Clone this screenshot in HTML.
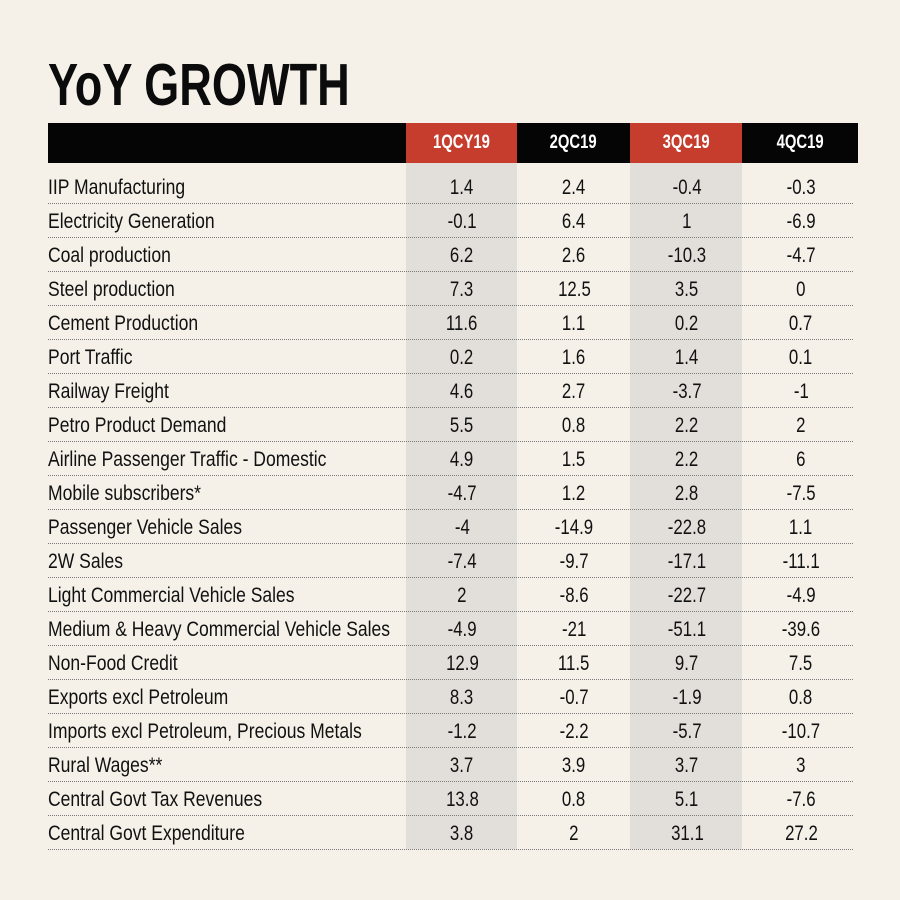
<!DOCTYPE html>
<html><head><meta charset="utf-8"><style>
html,body{margin:0;padding:0;}
body{width:900px;height:900px;background:#f5f0e8;position:relative;overflow:hidden;font-family:"Liberation Sans",sans-serif;color:#111;}
.abs{position:absolute;}
.title{left:48px;top:56px;font-size:59px;line-height:59px;font-weight:bold;white-space:nowrap;transform:scaleX(0.765);transform-origin:0 0;color:#0b0b0b;}
.hb{top:123px;height:40px;}
.ht{position:absolute;top:0;height:40px;line-height:40px;width:100%;text-align:center;color:#fff;font-weight:bold;font-size:19px;}
.ht span{display:inline-block;transform:scaleX(0.78);}
.shade{top:163px;height:686px;background:#e2dfda;}
.sep{left:48px;width:805px;height:0;border-top:1.5px dotted #7a7a7a;}
.row{left:0;width:900px;height:34px;line-height:34px;font-size:21px;white-space:nowrap;}
.lab{position:absolute;left:48px;top:0;transform:scaleX(0.835);transform-origin:0 0;}
.v{position:absolute;top:0;width:112px;text-align:center;}
.v span{display:inline-block;transform:scaleX(0.8);}
</style></head><body>
<div class="abs title">YoY GROWTH</div>
<div class="abs hb" style="left:48px;width:358px;background:#050505"></div>
<div class="abs hb" style="left:406px;width:111px;background:#c63d2d"><div class="ht"><span>1QCY19</span></div></div>
<div class="abs hb" style="left:517px;width:113px;background:#050505"><div class="ht"><span>2QC19</span></div></div>
<div class="abs hb" style="left:630px;width:112px;background:#c63d2d"><div class="ht"><span>3QC19</span></div></div>
<div class="abs hb" style="left:742px;width:116px;background:#050505"><div class="ht"><span>4QC19</span></div></div>
<div class="abs shade" style="left:406px;width:111px"></div>
<div class="abs shade" style="left:630px;width:112px"></div>
<div class="abs sep" style="top:203px"></div>
<div class="abs sep" style="top:237px"></div>
<div class="abs sep" style="top:271px"></div>
<div class="abs sep" style="top:305px"></div>
<div class="abs sep" style="top:339px"></div>
<div class="abs sep" style="top:373px"></div>
<div class="abs sep" style="top:407px"></div>
<div class="abs sep" style="top:441px"></div>
<div class="abs sep" style="top:475px"></div>
<div class="abs sep" style="top:509px"></div>
<div class="abs sep" style="top:543px"></div>
<div class="abs sep" style="top:577px"></div>
<div class="abs sep" style="top:611px"></div>
<div class="abs sep" style="top:645px"></div>
<div class="abs sep" style="top:679px"></div>
<div class="abs sep" style="top:713px"></div>
<div class="abs sep" style="top:747px"></div>
<div class="abs sep" style="top:781px"></div>
<div class="abs sep" style="top:815px"></div>
<div class="abs sep" style="top:849px"></div>

<div class="abs row" style="top:171px"><div class="lab">IIP Manufacturing</div><div class="v" style="left:406px"><span>1.4</span></div><div class="v" style="left:518px"><span>2.4</span></div><div class="v" style="left:631px"><span>-0.4</span></div><div class="v" style="left:745px"><span>-0.3</span></div></div>
<div class="abs row" style="top:205px"><div class="lab">Electricity Generation</div><div class="v" style="left:406px"><span>-0.1</span></div><div class="v" style="left:518px"><span>6.4</span></div><div class="v" style="left:631px"><span>1</span></div><div class="v" style="left:745px"><span>-6.9</span></div></div>
<div class="abs row" style="top:239px"><div class="lab">Coal production</div><div class="v" style="left:406px"><span>6.2</span></div><div class="v" style="left:518px"><span>2.6</span></div><div class="v" style="left:631px"><span>-10.3</span></div><div class="v" style="left:745px"><span>-4.7</span></div></div>
<div class="abs row" style="top:273px"><div class="lab">Steel production</div><div class="v" style="left:406px"><span>7.3</span></div><div class="v" style="left:518px"><span>12.5</span></div><div class="v" style="left:631px"><span>3.5</span></div><div class="v" style="left:745px"><span>0</span></div></div>
<div class="abs row" style="top:307px"><div class="lab">Cement Production</div><div class="v" style="left:406px"><span>11.6</span></div><div class="v" style="left:518px"><span>1.1</span></div><div class="v" style="left:631px"><span>0.2</span></div><div class="v" style="left:745px"><span>0.7</span></div></div>
<div class="abs row" style="top:341px"><div class="lab">Port Traffic</div><div class="v" style="left:406px"><span>0.2</span></div><div class="v" style="left:518px"><span>1.6</span></div><div class="v" style="left:631px"><span>1.4</span></div><div class="v" style="left:745px"><span>0.1</span></div></div>
<div class="abs row" style="top:375px"><div class="lab">Railway Freight</div><div class="v" style="left:406px"><span>4.6</span></div><div class="v" style="left:518px"><span>2.7</span></div><div class="v" style="left:631px"><span>-3.7</span></div><div class="v" style="left:745px"><span>-1</span></div></div>
<div class="abs row" style="top:409px"><div class="lab">Petro Product Demand</div><div class="v" style="left:406px"><span>5.5</span></div><div class="v" style="left:518px"><span>0.8</span></div><div class="v" style="left:631px"><span>2.2</span></div><div class="v" style="left:745px"><span>2</span></div></div>
<div class="abs row" style="top:443px"><div class="lab">Airline Passenger Traffic - Domestic</div><div class="v" style="left:406px"><span>4.9</span></div><div class="v" style="left:518px"><span>1.5</span></div><div class="v" style="left:631px"><span>2.2</span></div><div class="v" style="left:745px"><span>6</span></div></div>
<div class="abs row" style="top:477px"><div class="lab">Mobile subscribers*</div><div class="v" style="left:406px"><span>-4.7</span></div><div class="v" style="left:518px"><span>1.2</span></div><div class="v" style="left:631px"><span>2.8</span></div><div class="v" style="left:745px"><span>-7.5</span></div></div>
<div class="abs row" style="top:511px"><div class="lab">Passenger Vehicle Sales</div><div class="v" style="left:406px"><span>-4</span></div><div class="v" style="left:518px"><span>-14.9</span></div><div class="v" style="left:631px"><span>-22.8</span></div><div class="v" style="left:745px"><span>1.1</span></div></div>
<div class="abs row" style="top:545px"><div class="lab">2W Sales</div><div class="v" style="left:406px"><span>-7.4</span></div><div class="v" style="left:518px"><span>-9.7</span></div><div class="v" style="left:631px"><span>-17.1</span></div><div class="v" style="left:745px"><span>-11.1</span></div></div>
<div class="abs row" style="top:579px"><div class="lab">Light Commercial Vehicle Sales</div><div class="v" style="left:406px"><span>2</span></div><div class="v" style="left:518px"><span>-8.6</span></div><div class="v" style="left:631px"><span>-22.7</span></div><div class="v" style="left:745px"><span>-4.9</span></div></div>
<div class="abs row" style="top:613px"><div class="lab">Medium &amp; Heavy Commercial Vehicle Sales</div><div class="v" style="left:406px"><span>-4.9</span></div><div class="v" style="left:518px"><span>-21</span></div><div class="v" style="left:631px"><span>-51.1</span></div><div class="v" style="left:745px"><span>-39.6</span></div></div>
<div class="abs row" style="top:647px"><div class="lab">Non-Food Credit</div><div class="v" style="left:406px"><span>12.9</span></div><div class="v" style="left:518px"><span>11.5</span></div><div class="v" style="left:631px"><span>9.7</span></div><div class="v" style="left:745px"><span>7.5</span></div></div>
<div class="abs row" style="top:681px"><div class="lab">Exports excl Petroleum</div><div class="v" style="left:406px"><span>8.3</span></div><div class="v" style="left:518px"><span>-0.7</span></div><div class="v" style="left:631px"><span>-1.9</span></div><div class="v" style="left:745px"><span>0.8</span></div></div>
<div class="abs row" style="top:715px"><div class="lab">Imports excl Petroleum, Precious Metals</div><div class="v" style="left:406px"><span>-1.2</span></div><div class="v" style="left:518px"><span>-2.2</span></div><div class="v" style="left:631px"><span>-5.7</span></div><div class="v" style="left:745px"><span>-10.7</span></div></div>
<div class="abs row" style="top:749px"><div class="lab">Rural Wages**</div><div class="v" style="left:406px"><span>3.7</span></div><div class="v" style="left:518px"><span>3.9</span></div><div class="v" style="left:631px"><span>3.7</span></div><div class="v" style="left:745px"><span>3</span></div></div>
<div class="abs row" style="top:783px"><div class="lab">Central Govt Tax Revenues</div><div class="v" style="left:406px"><span>13.8</span></div><div class="v" style="left:518px"><span>0.8</span></div><div class="v" style="left:631px"><span>5.1</span></div><div class="v" style="left:745px"><span>-7.6</span></div></div>
<div class="abs row" style="top:817px"><div class="lab">Central Govt Expenditure</div><div class="v" style="left:406px"><span>3.8</span></div><div class="v" style="left:518px"><span>2</span></div><div class="v" style="left:631px"><span>31.1</span></div><div class="v" style="left:745px"><span>27.2</span></div></div>
</body></html>
